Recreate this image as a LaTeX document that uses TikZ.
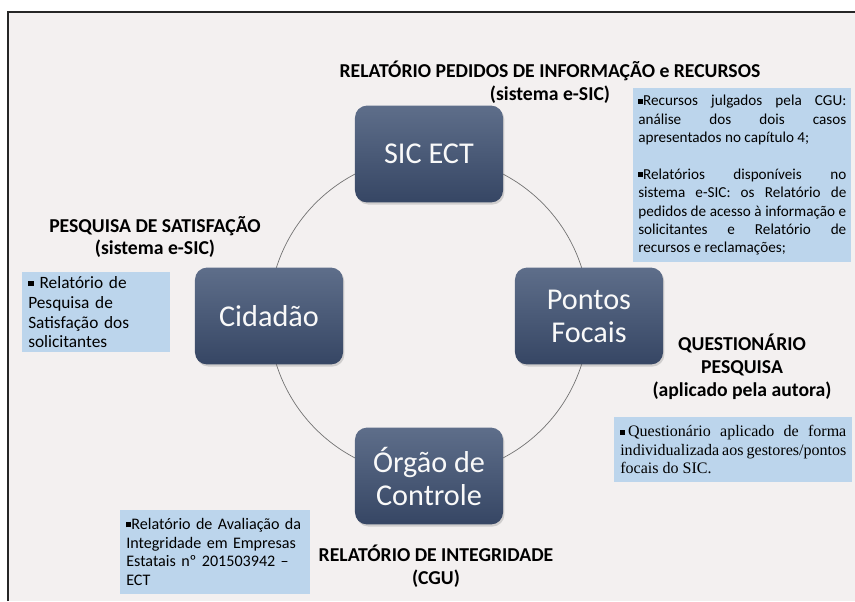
\documentclass[tikz,border=0pt]{standalone}
\usepackage{fontspec}
\setmainfont{Carlito}
\newfontfamily\timesfont{Liberation Serif}
\usetikzlibrary{shadows}
\definecolor{paper}{RGB}{243,240,240}
\definecolor{navytop}{RGB}{94,110,138}
\definecolor{navybot}{RGB}{54,70,100}
\definecolor{noteblue}{RGB}{188,213,236}
\newcommand{\sqb}{\raisebox{0.28ex}{\rule{0.32em}{0.32em}}}
\begin{document}
\begin{tikzpicture}[x=0.025cm,y=-0.025cm,
	actor/.style={rounded corners=0.3cm,minimum width=3.7cm,minimum height=2.42cm,
		top color=navytop,bottom color=navybot,draw=none,text=white!95!gray,align=center,
		font=\fontsize{21.5}{23.5}\selectfont,
		drop shadow={opacity=0.3,shadow xshift=1pt,shadow yshift=-1.5pt}},
	note/.style={fill=noteblue,anchor=north west,inner xsep=0.15cm,inner ysep=0cm},
	heading/.style={align=center,font=\bfseries\fontsize{14}{16.2}\selectfont}]
	\useasboundingbox (0,0) rectangle (855,601);
	\fill[paper] (8,12) rectangle (855,601);
	\draw[line width=1.4pt,black!85] (8,601) -- (8,12) -- (855,12);
	
	\coordinate (hub) at (429,316);
	\draw[black!55,line width=0.5pt] (hub) circle [radius=4cm];
	
	\node[actor] (sic) at (429,154) {SIC ECT};
	\node[actor] (cidadao) at (269,316) {Cidadão};
	\node[actor] (pontos) at (589,316) {Pontos\\Focais};
	\node[actor] (orgao) at (429,476) {Órgão de\\Controle};
	
	\node[heading] (hdpedidos) at (550,82) {RELATÓRIO PEDIDOS DE INFORMAÇÃO e RECURSOS\\(sistema e-SIC)};
	\node[heading] (hdsatisf) at (155,237) {PESQUISA DE SATISFAÇÃO\\(sistema e-SIC)};
	\node[heading] (hdquest) at (742,367) {QUESTIONÁRIO\\PESQUISA\\(aplicado pela autora)};
	\node[heading] (hdinteg) at (436,566) {RELATÓRIO DE INTEGRIDADE\\(CGU)};
	
	\node[note,minimum height=4.35cm,text width=5.2cm,inner xsep=0.125cm,align=justify,
		font=\fontsize{10.8}{13.1}\selectfont] (notepedidos) at (633,88)
		{\sqb Recursos julgados pela CGU:\linebreak
		análise dos dois casos\linebreak
		apresentados no capítulo 4;\par\vspace{13pt}
		\sqb Relatórios disponíveis no\linebreak
		sistema e-SIC: os Relatório de\linebreak
		pedidos de acesso à informação e\linebreak
		solicitantes e Relatório de\linebreak
		recursos e reclamações;};
	\node[note,minimum height=2cm,text width=3.4cm,align=left,
		font=\fontsize{12.3}{14.1}\selectfont] (notesatisf) at (22,272)
		{\sqb{} Relatório de\\Pesquisa de\\Satisfação dos\\solicitantes};
	\node[note,minimum height=1.62cm,text width=5.65cm,align=justify,
		font=\timesfont\fontsize{11.4}{13}\selectfont] (notequest) at (614,417)
		{\sqb{}\,Questionário aplicado de forma\linebreak
		individualizada aos gestores/pontos\linebreak
		focais do SIC.};
	\node[note,minimum height=2.08cm,text width=4.45cm,align=left,
		font=\fontsize{11.45}{13.2}\selectfont] (noteinteg) at (120,510)
		{\sqb Relatório de Avaliação da\\Integridade em Empresas\\Estatais nº 201503942 --\\ECT};
\end{tikzpicture}
\end{document}
